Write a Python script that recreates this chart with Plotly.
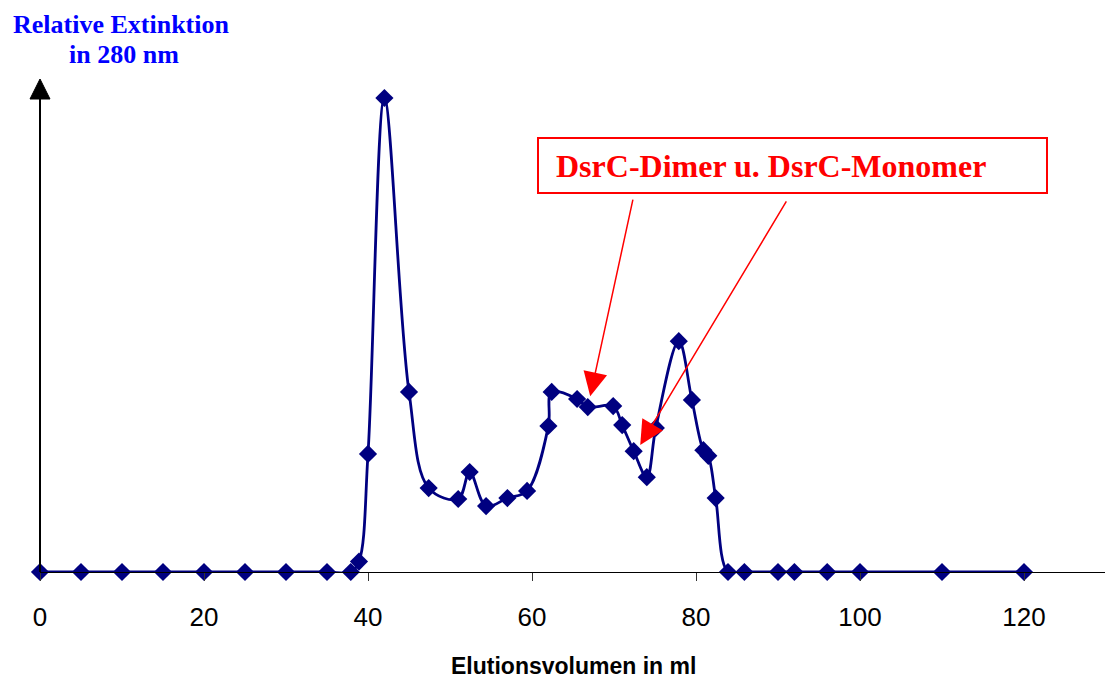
import plotly.graph_objects as go

# Elution profile (gel filtration), relative extinction at 280 nm
volume_ml = [0, 5, 10, 15, 20, 25, 30, 35, 37.9, 38.9, 40.0, 42.0, 45.0, 47.4,
             51.0, 52.4, 54.4, 57.0, 59.4, 62.0, 62.4, 65.5, 66.8, 69.9, 71.0,
             72.4, 74.0, 75.1, 77.9, 79.5, 80.9, 81.5, 82.4, 83.9, 85.9, 90,
             92, 96, 100, 110, 120]
extinction = [0, 0, 0, 0, 0, 0, 0, 0, 0, 2.2, 24.9, 100, 38.0, 17.7,
              15.4, 21.1, 13.9, 15.6, 17.1, 30.8, 38.0, 36.5, 34.8, 35.0, 31.0,
              25.5, 20.0, 30.4, 48.7, 36.3, 25.7, 24.5, 15.6, 0, 0, 0,
              0, 0, 0, 0, 0]

x_ticks = [0, 20, 40, 60, 80, 100, 120]
x_tick_labels = ["0", "20", "40", "60", "80", "100", "120"]

# pointer targets for the DsrC label (dimer, monomer)
arrow_targets_x = [67.1, 73.2]
arrow_targets_y = [37.1, 26.8]
arrow_offsets = [(43, -198), (147, -245)]

W, H = 1105, 680
L, R, T, B = 40, 0, 0, 108
PX_PER_ML = 8.2
PX_PER_UNIT = 4.74
plot_w = W - L - R
plot_h = H - T - B
x_max = plot_w / PX_PER_ML
y_max = plot_h / PX_PER_UNIT


def paper_x(px):
    return (px - L) / plot_w


def paper_y(py):
    return (H - B - py) / plot_h


navy = "#000080"

fig = go.Figure()
fig.add_trace(go.Scatter(
    x=volume_ml, y=extinction, mode="lines+markers",
    line=dict(color=navy, width=2.8, shape="spline", smoothing=1.0),
    marker=dict(symbol="diamond", size=14, color=navy),
    cliponaxis=False, showlegend=False,
))

shapes = [
    # vertical axis with arrow head
    dict(type="line", xref="paper", yref="paper",
         x0=paper_x(40), x1=paper_x(40), y0=paper_y(572), y1=paper_y(97),
         line=dict(color="black", width=2)),
    dict(type="path", xref="paper", yref="paper",
         path=(f"M {paper_x(30)},{paper_y(99)} L {paper_x(50)},{paper_y(99)} "
               f"L {paper_x(40)},{paper_y(79)} Z"),
         fillcolor="black", line=dict(color="black", width=1)),
    # label frame
    dict(type="rect", xref="paper", yref="paper",
         x0=paper_x(538), x1=paper_x(1047), y0=paper_y(193), y1=paper_y(138),
         line=dict(color="#FF0000", width=2), fillcolor="white", layer="above"),
]

annotations = [
    dict(text="<b>Relative Extinktion</b>", xref="paper", yref="paper",
         x=paper_x(121), y=paper_y(24), xanchor="center", yanchor="middle",
         showarrow=False,
         font=dict(family="Liberation Serif", size=26, color="#0000FF")),
    dict(text="<b>in 280 nm</b>", xref="paper", yref="paper",
         x=paper_x(124), y=paper_y(55), xanchor="center", yanchor="middle",
         showarrow=False,
         font=dict(family="Liberation Serif", size=26, color="#0000FF")),
    dict(text="<b>DsrC-Dimer u. DsrC-Monomer</b>", xref="paper", yref="paper",
         x=paper_x(771), y=paper_y(166), xanchor="center", yanchor="middle",
         showarrow=False,
         font=dict(family="Liberation Serif", size=32, color="#FF0000")),
    dict(text="<b>Elutionsvolumen in ml</b>", xref="paper", yref="paper",
         x=paper_x(573), y=paper_y(666), xanchor="center", yanchor="middle",
         showarrow=False,
         font=dict(family="Liberation Sans", size=23, color="black")),
]
for tx, ty, (ox, oy) in zip(arrow_targets_x, arrow_targets_y, arrow_offsets):
    annotations.append(dict(
        x=tx, y=ty, xref="x", yref="y", text="", showarrow=True,
        ax=ox, ay=oy, arrowhead=2, arrowsize=3.2, arrowwidth=1.5,
        arrowcolor="#FF0000", standoff=0,
    ))

fig.update_layout(
    width=W, height=H,
    margin=dict(l=L, r=R, t=T, b=B),
    paper_bgcolor="white", plot_bgcolor="white",
    shapes=shapes, annotations=annotations,
    xaxis=dict(range=[0, x_max], tickvals=x_ticks, ticktext=x_tick_labels,
               ticks="outside", ticklen=8, tickwidth=1, tickcolor="#333333",
               showline=True, linecolor="black", linewidth=1,
               showgrid=False, zeroline=False, ticklabelstandoff=14,
               tickfont=dict(family="Liberation Sans", size=26, color="black")),
    yaxis=dict(range=[0, y_max], showticklabels=False, showgrid=False,
               zeroline=False, showline=False, ticks=""),
)

fig.write_html("out.html")
